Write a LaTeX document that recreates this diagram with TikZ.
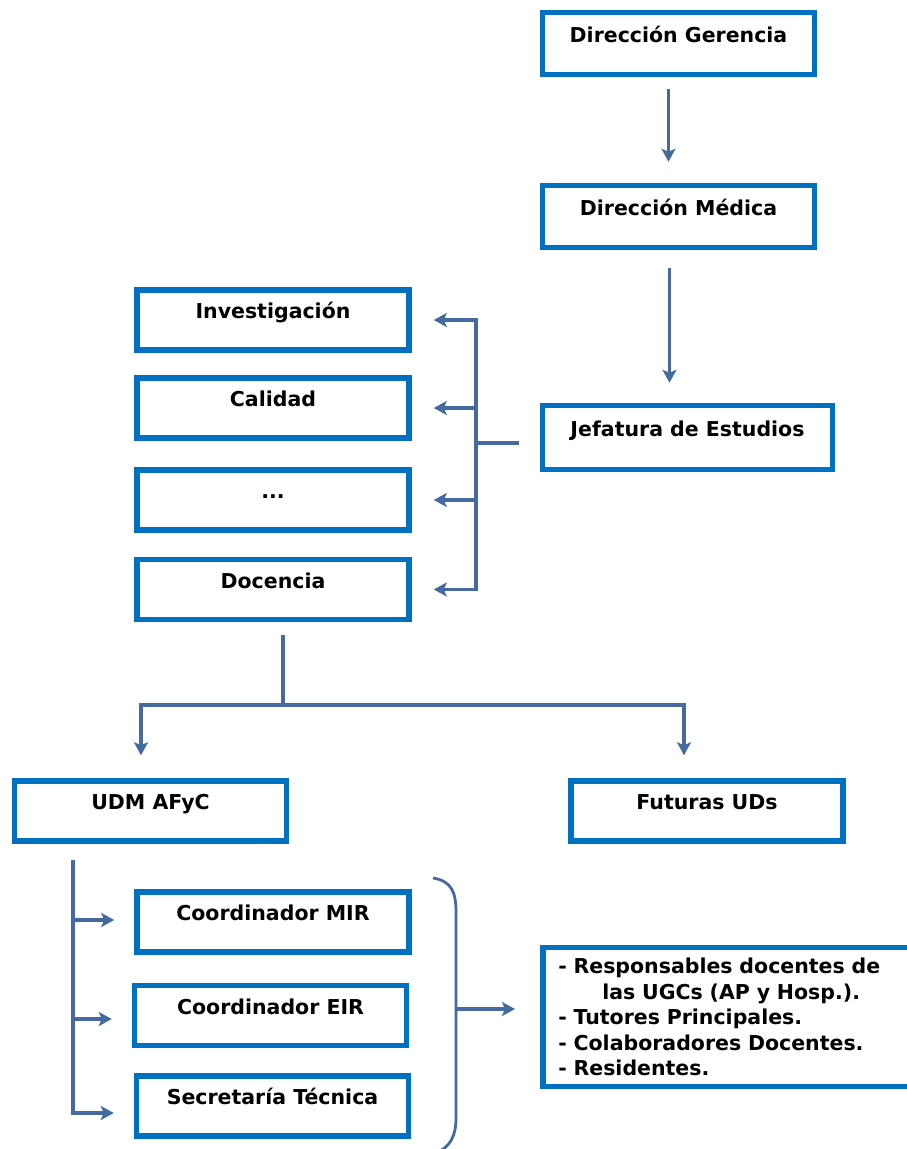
\documentclass[tikz,border=0pt]{standalone}
\usepackage{fontspec}
\setmainfont{DejaVu Sans}
\usetikzlibrary{arrows.meta,calc}
\definecolor{boxblue}{RGB}{0,112,192}
\definecolor{linkblue}{RGB}{68,106,160}
\tikzset{
  box/.style={draw=boxblue, line width=5.5pt, minimum width=272pt, minimum height=60pt,
    inner sep=0pt, text height=15pt, text depth=18pt,
    font=\fontsize{20.5}{25}\selectfont\bfseries},
  listbox/.style={draw=boxblue, line width=5.5pt, align=left, text width=345pt,
    inner xsep=15.5pt, inner ysep=4pt, minimum height=139pt,
    font=\fontsize{20.5}{25.5}\selectfont\bfseries},
  conn/.style={draw=linkblue, line width=3.2pt},
  arr/.style={conn, -{Stealth[length=13pt,width=14pt,inset=3pt]}},
}
\begin{document}
\begin{tikzpicture}[x=1pt,y=-1pt]
\useasboundingbox (0,0) rectangle (906,1149);

% boxes
\node[box, minimum height=62pt] (dg) at (678.5,43.5) {Dirección Gerencia};
\node[box, minimum height=62pt] (dm) at (678.5,216.5) {Dirección Médica};
\node[box, minimum width=290pt, minimum height=64pt] (je) at (687.5,437.5) {Jefatura de Estudios};
\node[box] (inv) at (273,320) {Investigación};
\node[box] (cal) at (273,408) {Calidad};
\node[box] (dots) at (273,500) {...};
\node[box] (doc) at (273,589.5) {Docencia};
\node[box] (udm) at (150.5,811) {UDM AFyC};
\node[box] (fut) at (707,811) {Futuras UDs};
\node[box] (cmir) at (273,922) {Coordinador MIR};
\node[box] (ceir) at (270.5,1015.5) {Coordinador EIR};
\node[box] (sec) at (272.5,1106) {Secretaría Técnica};
\node[listbox, anchor=west] (lst) at (540,1017) {- Responsables docentes de\\
\hspace*{44pt}las UGCs (AP y Hosp.).\\
- Tutores Principales.\\
- Colaboradores Docentes.\\
- Residentes.};

% top chain
\coordinate (a0) at ([xshift=-10pt]dg.south);
\draw[arr, shorten <=12pt, shorten >=21pt] (a0) -- (a0 |- dm.north);
\coordinate (a1) at ([xshift=-9pt]dm.south);
\draw[arr, shorten <=18pt, shorten >=20pt] (a1) -- (a1 |- je.north);

% jefatura bracket
\coordinate (jb) at (476,443);
\draw[conn, shorten <=21pt] (je.west |- jb) -- (jb);
\draw[arr, shorten >=22pt] (jb) |- (inv.east);
\draw[arr, shorten >=22pt] (jb) |- (doc.east);
\draw[arr, shorten >=22pt] (jb |- cal.east) -- (cal.east);
\draw[arr, shorten >=22pt] (jb |- dots.east) -- (dots.east);

% docencia split
\coordinate (dj) at (283,705);
\coordinate (ul) at (141,705);
\coordinate (ur) at (684,705);
\draw[conn, shorten <=13pt] (doc.south -| dj) -- (dj);
\draw[arr, shorten >=23pt] (dj) -| (ul |- udm.north);
\draw[arr, shorten >=23pt] (dj) -| (ur |- fut.north);

% UDM children
\coordinate (sv) at (73,860);
\coordinate (s1) at (73,920);
\coordinate (s2) at (73,1019);
\coordinate (s3) at (73,1113);
\draw[arr, shorten >=20pt] (sv) -- (s3) -- (s3 -| sec.west);
\draw[arr, shorten >=20pt] (s1) -- (s1 -| cmir.west);
\draw[arr, shorten >=20pt] (s2) -- (s2 -| ceir.west);

% right bracket
\coordinate (bt) at (433,878);
\coordinate (bm) at (456,1009);
\coordinate (bb) at (435,1153);
\draw[conn, line width=2.8pt] (bt) .. controls (452,881) and (456,893) .. (456,912)
  -- (456,1118) .. controls (456,1136) and (450,1148) .. (bb);
\draw[arr, shorten >=25pt] (bm) -- (bm -| lst.west);
\end{tikzpicture}
\end{document}
